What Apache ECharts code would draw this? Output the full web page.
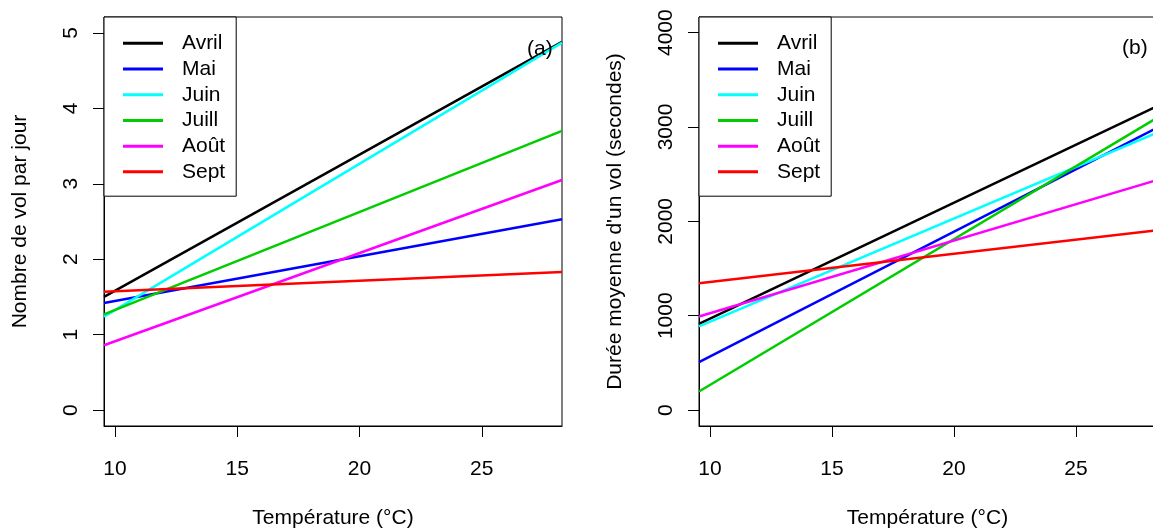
<!DOCTYPE html>
<html>
<head>
<meta charset="utf-8">
<script src="https://cdn.jsdelivr.net/npm/echarts@6/dist/echarts.min.js"></script>
<style>
  html, body { margin: 0; padding: 0; background: #fff; }
  #chart { width: 1153px; height: 531px; }
</style>
</head>
<body>
<div id="chart"></div>
<script>
// mois et couleurs
const months = ['Avril', 'Mai', 'Juin', 'Juill', 'Août', 'Sept']
const colors = ['#000000', '#0000ff', '#00ffff', '#00cd00', '#ff00ff', '#ff0000']

// bornes de l'axe des températures
const xRange = [9.55, 28.28]
const xTicks = [10, 15, 20, 25]

// (a) nombre de vol par jour : valeur aux deux bornes
const volsStart = [1.50, 1.42, 1.24, 1.27, 0.86, 1.57]
const volsEnd = [4.88, 2.53, 4.87, 3.70, 3.05, 1.83]
const volsTicks = [0, 1, 2, 3, 4, 5]

// (b) durée moyenne d'un vol : valeur aux deux bornes
const dureeStart = [914, 508, 886, 197, 992, 1345]
const dureeEnd = [3215, 2985, 2935, 3090, 2435, 1905]
const dureeTicks = [0, 1000, 2000, 3000, 4000]

const FONT = "'Liberation Sans', Arial, sans-serif"
const FS = 21

function xAxisOpt (idx) {
  return {
    type: 'value',
    gridIndex: idx,
    min: xRange[0],
    max: xRange[1],
    name: 'Température (°C)',
    nameLocation: 'middle',
    nameGap: 82,
    nameTextStyle: { color: '#000', fontSize: FS, fontFamily: FONT },
    axisLine: { show: true, onZero: false, lineStyle: { color: '#000', width: 1 } },
    axisTick: { show: true, length: 11, lineStyle: { color: '#000', width: 1 }, customValues: xTicks },
    axisLabel: { color: '#000', fontSize: FS, fontFamily: FONT, margin: 33, customValues: xTicks },
    splitLine: { show: false }
  }
}

function yAxisOpt (idx, min, max, ticks, name) {
  return {
    type: 'value',
    gridIndex: idx,
    min: min,
    max: max,
    name: name,
    nameLocation: 'middle',
    nameGap: 73,
    nameTextStyle: { color: '#000', fontSize: FS, fontFamily: FONT },
    axisLine: { show: true, onZero: false, lineStyle: { color: '#000', width: 1 } },
    axisTick: { show: true, length: 11, lineStyle: { color: '#000', width: 1 }, customValues: ticks },
    axisLabel: {
      color: '#000', fontSize: FS, fontFamily: FONT, rotate: 90, margin: 22,
      customValues: ticks, formatter: v => String(v)
    },
    splitLine: { show: false }
  }
}

function legendOpt (left) {
  return {
    data: months,
    orient: 'vertical',
    left: left,
    top: 17,
    icon: 'rect',
    itemWidth: 40,
    itemHeight: 3,
    itemGap: 0,
    padding: [13.5, 11, 11.5, 19],
    borderColor: '#000',
    borderWidth: 1,
    borderRadius: 0,
    backgroundColor: '#fff',
    selectedMode: false,
    textStyle: { color: '#000', fontSize: FS, fontFamily: FONT, lineHeight: 25.7, padding: [0, 0, 0, 14] }
  }
}

let series = []
months.forEach((m, i) => {
  series.push({
    name: m,
    type: 'line',
    xAxisIndex: 0,
    yAxisIndex: 0,
    symbol: 'none',
    color: colors[i],
    lineStyle: { color: colors[i], width: 2.5 },
    data: [[xRange[0], volsStart[i]], [xRange[1], volsEnd[i]]]
  })
  series.push({
    name: m,
    type: 'line',
    xAxisIndex: 1,
    yAxisIndex: 1,
    symbol: 'none',
    color: colors[i],
    lineStyle: { color: colors[i], width: 2.5 },
    data: [[xRange[0], dureeStart[i]], [xRange[1], dureeEnd[i]]]
  })
})

const chart = echarts.init(document.getElementById('chart'), null, { renderer: 'canvas' })
chart.setOption({
  animation: false,
  backgroundColor: '#fff',
  title: [
    { text: '(a)', left: 527, top: 39, textStyle: { color: '#000', fontSize: FS, fontWeight: 'normal', fontFamily: FONT }, padding: 0 },
    { text: '(b)', left: 1122, top: 38, textStyle: { color: '#000', fontSize: FS, fontWeight: 'normal', fontFamily: FONT }, padding: 0 }
  ],
  grid: [
    { left: 104, top: 17, width: 458, height: 409, show: true, borderColor: '#000', borderWidth: 1, containLabel: false, outerBoundsMode: 'none' },
    { left: 699, top: 17, width: 457, height: 409, show: true, borderColor: '#000', borderWidth: 1, containLabel: false, outerBoundsMode: 'none' }
  ],
  xAxis: [xAxisOpt(0), xAxisOpt(1)],
  yAxis: [
    yAxisOpt(0, -0.21, 5.21, volsTicks, 'Nombre de vol par jour'),
    yAxisOpt(1, -169, 4166, dureeTicks, "Durée moyenne d'un vol (secondes)")
  ],
  legend: [legendOpt(104), legendOpt(699)],
  series: series
})
</script>
</body>
</html>
